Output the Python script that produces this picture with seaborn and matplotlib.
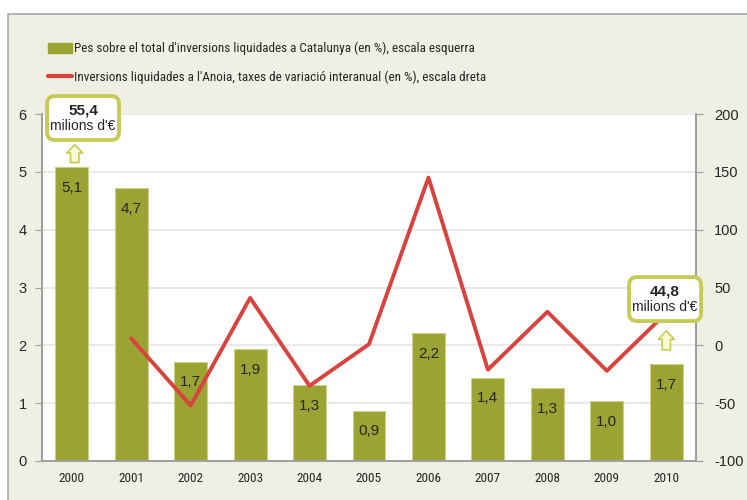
import numpy as np
import pandas as pd
import matplotlib
matplotlib.use('Agg')
import matplotlib.pyplot as plt
import matplotlib.transforms as mtransforms
from matplotlib.patches import Rectangle, Patch, FancyBboxPatch
from matplotlib.lines import Line2D
import seaborn as sns

# dades
anys = ['2000', '2001', '2002', '2003', '2004', '2005', '2006', '2007', '2008', '2009', '2010']
pes_catalunya = [5.08, 4.72, 1.72, 1.94, 1.31, 0.87, 2.21, 1.44, 1.26, 1.03, 1.68]
etiquetes_pes = ['5,1', '4,7', '1,7', '1,9', '1,3', '0,9', '2,2', '1,4', '1,3', '1,0', '1,7']
variacio_anys = ['2001', '2002', '2003', '2004', '2005', '2006', '2007', '2008', '2009', '2010']
variacio = [6, -52, 41, -35, 1, 145, -21, 29, -22, 28]
yticks_esq = [0, 1, 2, 3, 4, 5, 6]
yticks_dre = [-100, -50, 0, 50, 100, 150, 200]

nom_barres = "Pes sobre el total d'inversions liquidades a Catalunya (en %), escala esquerra"
nom_linia = "Inversions liquidades a l'Anoia, taxes de variació interanual (en %), escala dreta"

VERD = '#9BA433'
VERMELL = '#D9433E'
MARC = '#C6CB58'
FONS = '#EFEFE3'

sns.set_style('white')
plt.rcParams['font.family'] = ['Liberation Sans', 'DejaVu Sans']
ESTRETA = ['Roboto Condensed', 'Liberation Sans', 'DejaVu Sans']

df = pd.DataFrame({'any': anys, 'pes': pes_catalunya})
df_linia = pd.DataFrame({'pos': [anys.index(a) for a in variacio_anys], 'var': variacio})

fig = plt.figure(figsize=(7.47, 5.0), dpi=100)
fig.patch.set_facecolor('white')
fig.patches.append(Rectangle((8 / 747, -0.1), 1.2, 1.1 - 14 / 500,
                             transform=fig.transFigure, facecolor=FONS,
                             edgecolor='#A8A8A8', linewidth=1.2, zorder=-10))

ax = fig.add_axes([42 / 747, 39 / 500, 654 / 747, 347 / 500])
ax.set_facecolor('white')
sns.barplot(data=df, x='any', y='pes', color=VERD, width=0.555, saturation=1, ax=ax, zorder=2,
            edgecolor='#C9CF8C', linewidth=0.8)
ax.bar_label(ax.containers[0], labels=etiquetes_pes, padding=-20, fontsize=11, zorder=5)
ax.set_ylim(0, 6)
ax.set_xlim(-0.5, len(anys) - 0.5)
ax.set_yticks(yticks_esq)
ax.set_yticklabels([str(v) for v in yticks_esq], fontsize=10.5)
ax.yaxis.grid(True, color='#E6E6E6', linewidth=1.2, zorder=0)
ax.set_axisbelow(True)
ax.set_xlabel('')
ax.set_ylabel('')
ax.set_xticks(np.arange(len(anys)))
ax.set_xticklabels(anys, fontsize=9.5, family=ESTRETA)
ax.set_xticks(np.arange(len(anys) + 1) - 0.5, minor=True)
ax.tick_params(axis='x', which='major', length=0, pad=8)
ax.tick_params(axis='x', which='minor', length=5, color='#A0A0A0')
ax.tick_params(axis='y', length=5, color='#A0A0A0', direction='out', left=True, pad=6)
for s in ['left', 'bottom', 'right']:
    ax.spines[s].set_color('#A0A0A0')
    ax.spines[s].set_linewidth(1.3)
ax.spines['top'].set_visible(False)

ax2 = ax.twinx()
sns.lineplot(data=df_linia, x='pos', y='var', color=VERMELL, linewidth=2.8, ax=ax2, zorder=3)
ax2.set_ylim(-100, 200)
ax2.set_yticks(yticks_dre)
ax2.set_yticklabels([str(v) for v in yticks_dre], fontsize=10.5)
ax2.set_xlim(-0.5, len(anys) - 0.5)
ax2.set_ylabel('')
ax2.set_xlabel('')
ax2.tick_params(axis='y', length=5, color='#A0A0A0', direction='out', right=True, pad=8)
for s in ['left', 'right', 'bottom']:
    ax2.spines[s].set_color('#A0A0A0')
    ax2.spines[s].set_linewidth(1.3)
ax2.spines['top'].set_visible(False)


# caixes amb l'import total
def caixa(x, y, valor, xf, y_fletxa0, y_fletxa1):
    ax2.annotate('', xy=(xf, y_fletxa1), xytext=(xf, y_fletxa0), xycoords=ax.transData,
                 arrowprops=dict(arrowstyle='simple,head_length=0.6,head_width=1.15,tail_width=0.6',
                                 fc='#FAFAD7', ec=MARC, lw=1.2, shrinkA=0, shrinkB=0),
                 zorder=6, annotation_clip=False)
    # caixa en polzades al voltant del punt (x, y)
    trans = fig.dpi_scale_trans + mtransforms.ScaledTranslation(x, y, ax.transData)
    caixa = FancyBboxPatch((-0.36, -0.22), 0.72, 0.44, boxstyle='round,pad=0,rounding_size=0.08',
                           transform=trans, fc='white', ec=MARC, lw=2.8, zorder=7, clip_on=False)
    ax2.add_patch(caixa)
    ax2.text(0, 0.075, valor, transform=trans, ha='center', va='center',
             fontsize=11, fontweight='bold', zorder=8, clip_on=False)
    ax2.text(0, -0.08, "milions d'€", transform=trans, ha='center', va='center',
             fontsize=10, zorder=8, clip_on=False)


caixa(0.19, 5.93, '55,4', 0.05, 5.16, 5.47)
caixa(9.98, 2.80, '44,8', 10.0, 1.92, 2.25)

handles = [Patch(facecolor=VERD, edgecolor=VERD), Line2D([0], [0], color=VERMELL, lw=3)]
fig.legend(handles, [nom_barres, nom_linia], loc='upper left', bbox_to_anchor=(48 / 747, 1 - 42 / 500),
           frameon=False, handlelength=1.8, handleheight=0.85, handletextpad=0.15,
           labelspacing=1.12, borderaxespad=0, borderpad=0,
           prop={'family': ESTRETA, 'size': 9.5})

fig.savefig('out.png', dpi=100)
